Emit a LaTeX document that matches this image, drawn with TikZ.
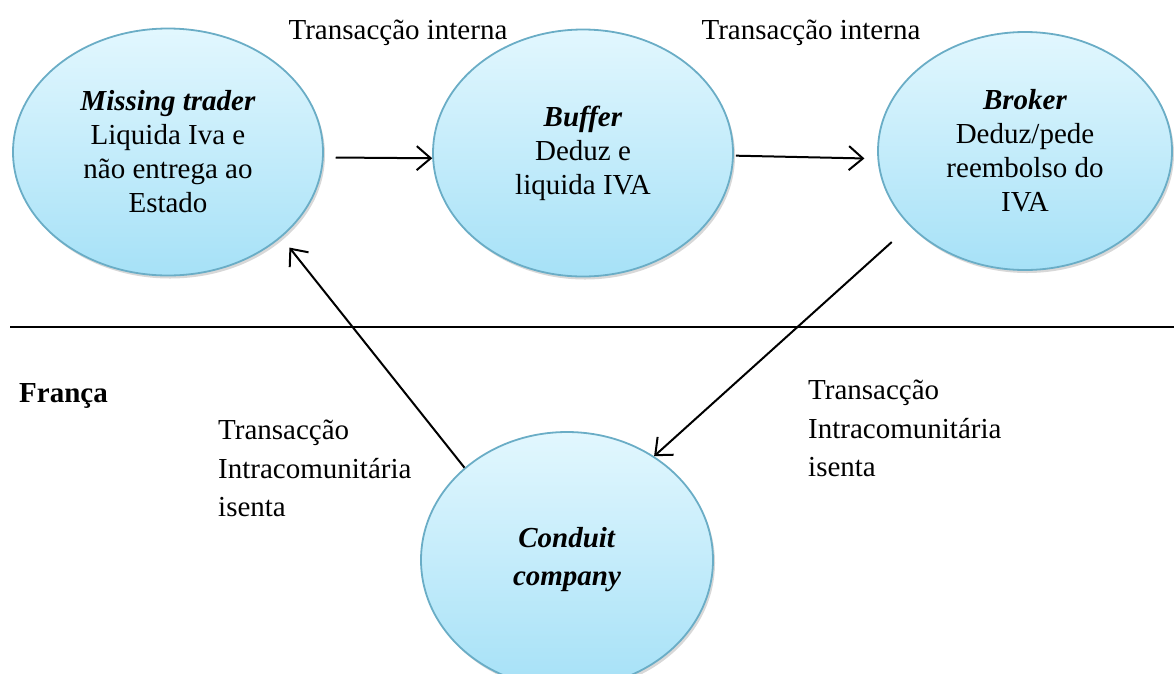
\documentclass[tikz,border=0pt]{standalone}
\usepackage{fontspec}
\setmainfont{Liberation Serif}
\usetikzlibrary{arrows.meta,shapes.geometric,shadows}
\definecolor{bubbletop}{HTML}{E2F7FE}
\definecolor{bubblebot}{HTML}{A6E1F7}
\definecolor{bubbleedge}{HTML}{6AADC6}
\tikzset{
  bubble/.style={ellipse, draw=bubbleedge, line width=1.8pt,
    top color=bubbletop, bottom color=bubblebot, inner sep=0pt, align=center,
    font=\fontsize{29}{34}\selectfont,
    drop shadow={shadow xshift=2pt, shadow yshift=-3pt, opacity=0.22, fill=black!70}},
  flow/.style={draw=black, line width=2pt,
    -{Straight Barb[length=14pt,width=24pt,line width=2pt]}},
  caption/.style={font=\fontsize{29}{38.5}\selectfont, inner sep=0pt},
}
\begin{document}
\begin{tikzpicture}[x=1pt,y=-1pt]
\useasboundingbox (0,0) rectangle (1174,673);

% border line separating the two member states
\draw[line width=1.9pt] (10,327) -- (1174,327);

% the actors of the carousel
\node[bubble, minimum width=310pt, minimum height=247pt] (mt) at (168,152)
  {\textbf{\textit{Missing trader}}\\Liquida Iva e\\não entrega ao\\Estado};
\node[bubble, minimum width=300pt, minimum height=247pt] (bu) at (583,153)
  {\textbf{\textit{Buffer}}\\Deduz e\\liquida IVA};
\node[bubble, minimum width=294pt, minimum height=238pt] (br) at (1025,151)
  {\textbf{\textit{Broker}}\\Deduz/pede\\reembolso do\\IVA};
\node[bubble, minimum width=292pt, minimum height=256pt,
      font=\fontsize{29}{38}\selectfont] (cc) at (567,560)
  {\textbf{\textit{Conduit}}\\\textbf{\textit{company}}};

% transaction labels
\node[caption, anchor=base] (ti1) at (398,39) {Transacção interna};
\node[caption, anchor=base] (ti2) at (811,39) {Transacção interna};
\node[caption, anchor=base west, font=\fontsize{29}{38.5}\selectfont\bfseries] (fr) at (19,402) {França};
\node[caption, anchor=north west, align=left] (il) at (218,420)
  {Transacção\\Intracomunitária\\isenta};
\node[caption, anchor=north west, align=left] (ir) at (808,380)
  {Transacção\\Intracomunitária\\isenta};

% flows of goods
\draw[flow, shorten <=12pt] (mt.-2) -- (bu.182);
\draw[flow, shorten <=2pt, shorten >=13pt] (bu.-1) -- (br.183);
\draw[flow, shorten <=24pt] (br.213) -- (cc.50);
\draw[flow, shorten >=13pt] (cc.138.5) -- (mt.323);
\end{tikzpicture}
\end{document}
